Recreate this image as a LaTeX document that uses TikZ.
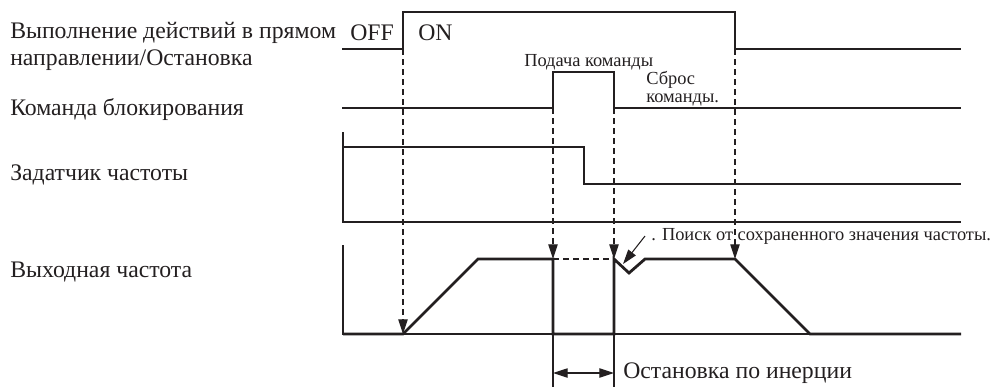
\documentclass[tikz,border=0pt]{standalone}
\usepackage{fontspec}
\setmainfont{Liberation Serif}
\usetikzlibrary{arrows.meta}
\definecolor{ink}{HTML}{231F20}
\begin{document}
\begin{tikzpicture}[x=0.75pt,y=-0.75pt,color=ink,
  sig/.style={line width=2.1pt,line join=miter},
  thinl/.style={line width=0.8pt},
  dashl/.style={line width=0.8pt,dash pattern=on 4.5pt off 3pt},
  tip/.style={-{Triangle[length=11pt,width=7pt]}},
  lbl/.style={anchor=west,inner sep=0pt,font=\fontsize{17.8}{20}\selectfont},
  small/.style={anchor=west,inner sep=0pt,font=\fontsize{13.8}{16}\selectfont}]
\useasboundingbox (0,0) rectangle (994,387);
% labels
\node[lbl] (l1a) at (10,33) {Выполнение действий в прямом};
\node[lbl] (l1b) at (10,60) {направлении/Остановка};
\node[lbl] (l2) at (10,110) {Команда блокирования};
\node[lbl] (l3) at (10,175) {Задатчик частоты};
\node[lbl] (l4) at (10,272) {Выходная частота};
\node[lbl] (off) at (350,33) {OFF};
\node[lbl] (on) at (418,33) {ON};
\node[small] (pod) at (524,62) {Подача команды};
\node[small] (sb1) at (646,80) {Сброс};
\node[small] (sb2) at (646,100) {команды.};
\node[small] (poisk) at (651,236) {. Поиск от сохраненного значения частоты.};
\node[lbl] (ost) at (623,373) {Остановка по инерции};
% coordinates
\coordinate (a1) at (403,49);
\coordinate (a2) at (553,108);
\coordinate (a3) at (614,108);
\coordinate (a4) at (735,49);
\coordinate (t1) at (403,334);
\coordinate (t2) at (553,259);
\coordinate (t3) at (614,259);
\coordinate (t4) at (735,259);
% signal 1
\draw[sig] (342,49) -- (403,49) -- (403,12) -- (735,12) -- (735,49) -- (961,49);
% signal 2
\draw[sig] (342,108) -- (553,108) -- (553,72) -- (614,72) -- (614,108) -- (961,108);
% signal 3
\draw[thinl] (343,132) -- (343,222) -- (961,222);
\draw[sig] (343,147) -- (584,147) -- (584,184) -- (961,184);
% signal 4
\draw[thinl] (343,245) -- (343,334) -- (961,334);
\draw[sig] (343,334) -- (403,334) -- (478,259) -- (553,259) -- (553,334) -- (614,334) -- (614,259) -- (629,273) -- (645,259) -- (735,259) -- (810,334) -- (961,334);
\draw[dashl] (553,259) -- (614,259);
% dashed arrows
\draw[dashl,tip] (a1) -- (t1);
\draw[dashl,tip] (a2) -- (t2);
\draw[dashl,tip] (a3) -- (t3);
\draw[dashl,tip] (a4) -- (t4);
% annotation arrow
\coordinate (pa) at (645,236);
\coordinate (pb) at (623,264);
\draw[thinl,tip] (pa) -- (pb);
% coast
\coordinate (c1) at (553,387);
\coordinate (c2) at (614,387);
\draw[thinl] (553,334) -- (c1);
\draw[thinl] (614,334) -- (c2);
\coordinate (d1) at (553,373);
\coordinate (d2) at (614,373);
\draw[thinl,{Triangle[length=11pt,width=7pt]}-{Triangle[length=11pt,width=7pt]}] (d1) -- (d2);
\end{tikzpicture}
\end{document}
